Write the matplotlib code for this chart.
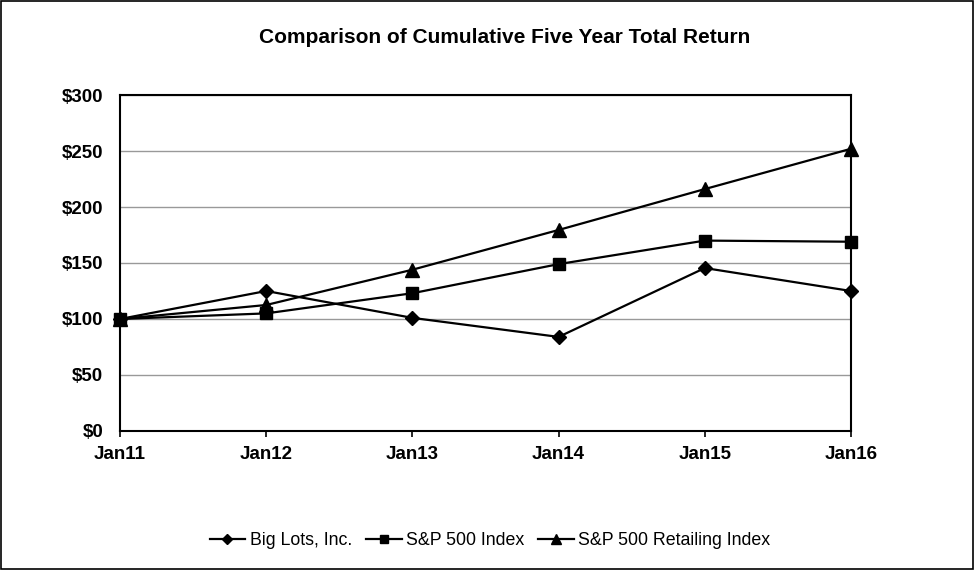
import matplotlib
matplotlib.use("Agg")
import matplotlib.pyplot as plt
from matplotlib.patches import Rectangle
from matplotlib.ticker import FuncFormatter

plt.rcParams["font.family"] = ["Liberation Sans", "DejaVu Sans"]

years = ["Jan11", "Jan12", "Jan13", "Jan14", "Jan15", "Jan16"]
big_lots = [100, 125, 101, 84, 145.5, 125]
sp500 = [100, 105, 123, 149, 170, 169]
sp500_retail = [100, 112.5, 144, 179.5, 216, 252]

fig = plt.figure(figsize=(9.75, 5.7), dpi=100)
ax = fig.add_axes([0.1231, 0.2439, 0.7497, 0.5894])

x = list(range(len(years)))
ax.plot(x, big_lots, color="black", linewidth=1.6, marker="D", markersize=7,
        label="Big Lots, Inc.", clip_on=False, zorder=4)
ax.plot(x, sp500, color="black", linewidth=1.6, marker="s", markersize=9,
        label="S&P 500 Index", clip_on=False, zorder=4)
ax.plot(x, sp500_retail, color="black", linewidth=1.6, marker="^", markersize=9.5,
        label="S&P 500 Retailing Index", clip_on=False, zorder=4)

ax.set_xlim(0, len(years) - 1)
ax.set_ylim(0, 300)
ax.set_yticks(range(0, 301, 50))
ax.yaxis.set_major_formatter(FuncFormatter(lambda v, p: f"${v:.0f}"))
ax.set_xticks(x)
ax.set_xticklabels(years)
ax.grid(axis="y", color="#999999", linewidth=1.0)
ax.set_axisbelow(True)
for s in ax.spines.values():
    s.set_color("black")
    s.set_linewidth(1.5)

ax.tick_params(axis="y", length=0, pad=12, labelsize=13.5)
ax.tick_params(axis="x", length=4, width=1.2, direction="out", pad=7, labelsize=13.5)
for lab in ax.get_xticklabels() + ax.get_yticklabels():
    lab.set_fontweight("bold")

fig.text(0.518, 0.935, "Comparison of Cumulative Five Year Total Return",
         ha="center", va="center", fontsize=15, fontweight="bold")

fig.legend(loc="center", bbox_to_anchor=(0.5026, 0.052), ncol=3, frameon=False,
           fontsize=12.8, handlelength=2.0, columnspacing=0.8, handletextpad=0.25,
           markerscale=0.7)

fig.add_artist(Rectangle((0.001, 0.002), 0.997, 0.996, transform=fig.transFigure,
                         fill=False, edgecolor="black", linewidth=1.2))

fig.savefig("out.png", dpi=100)
